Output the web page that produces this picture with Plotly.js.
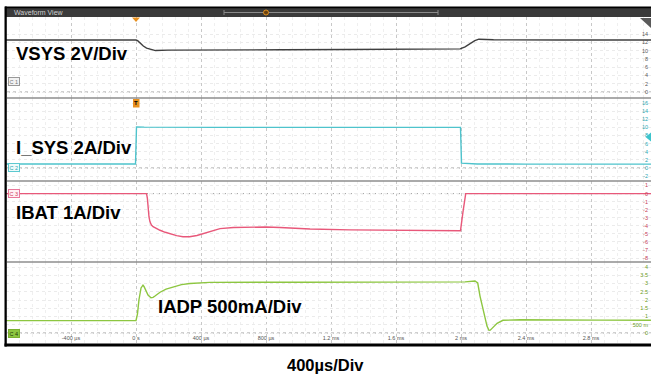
<!DOCTYPE html>
<html>
<head>
<meta charset="utf-8">
<script src="https://cdn.plot.ly/plotly-3.0.1.min.js"></script>
<style>html,body{margin:0;padding:0;background:#fff;}#chart{width:651px;height:376px;}</style>
</head>
<body>
<div id="chart"></div>
<script>
// ---- data (time in ms) ----
const vsysT = [-0.8, -0.4, 0, 0.01, 0.025, 0.045, 0.065, 0.09, 0.12, 0.2, 0.5, 0.9, 1.3, 1.7, 1.95, 1.995, 2.025, 2.055, 2.085, 2.11, 2.2, 2.6, 3.17];
const vsysV = [12.55, 12.6, 12.55, 12.4, 11.8, 11.1, 10.6, 10.25, 10.0, 10.1, 10.2, 10.2, 10.25, 10.3, 10.35, 10.4, 10.9, 11.7, 12.4, 12.75, 12.6, 12.55, 12.55];

const isysT = [-0.8, -0.003, 0.003, 0.05, 0.5, 1.0, 1.5, 1.997, 2.003, 2.03, 2.1, 2.4, 3.17];
const isysV = [1.0, 1.0, 10.1, 10.05, 10.0, 10.0, 10.0, 10.0, 1.2, 1.1, 1.0, 0.95, 0.95];

const ibatT = [-0.8, 0.065, 0.07, 0.074, 0.08, 0.086, 0.095, 0.105, 0.125, 0.148, 0.18, 0.209, 0.25, 0.289, 0.33, 0.375, 0.415, 0.455, 0.517, 0.6, 0.702, 0.8, 0.886, 1.071, 1.317, 1.625, 1.85, 1.997, 2.012, 2.029, 2.1, 3.17];
const ibatV = [0, 0, -0.6, -1.8, -2.9, -3.5, -3.9, -4.1, -4.35, -4.55, -4.8, -5.0, -5.22, -5.35, -5.35, -5.2, -4.95, -4.7, -4.35, -4.2, -4.15, -4.15, -4.2, -4.4, -4.5, -4.55, -4.6, -4.6, -2.3, 0, 0, 0];

const iadpT = [-0.8, -0.01, 0, 0.009, 0.018, 0.031, 0.037, 0.043, 0.049, 0.055, 0.074, 0.092, 0.105, 0.117, 0.148, 0.185, 0.228, 0.28, 0.332, 0.455, 1.009, 1.625, 2.025, 2.086, 2.103, 2.117, 2.142, 2.16, 2.172, 2.18, 2.191, 2.222, 2.258, 2.363, 2.855, 3.169];
const iadpV = [0.75, 0.75, 0.76, 1.15, 2.0, 2.73, 2.86, 2.9, 2.82, 2.67, 2.3, 2.14, 2.16, 2.24, 2.47, 2.66, 2.8, 2.93, 3.0, 3.07, 3.08, 3.08, 3.1, 3.15, 3.03, 2.24, 1.1, 0.42, 0.16, 0.17, 0.28, 0.59, 0.77, 0.8, 0.78, 0.77];

// ---- tick labels ----
const timeTickVals = [-0.4, 0, 0.4, 0.8, 1.2, 1.6, 2.0, 2.4, 2.8];
const timeTickText = ['-400 µs', '0 s', '400 µs', '800 µs', '1.2 ms', '1.6 ms', '2 ms', '2.4 ms', '2.8 ms'];
const ch1TickVals = [0, 2, 4, 6, 8, 10, 12, 14];
const ch1TickText = ['0', '2', '4', '6', '8', '10', '12', '14'];
const ch2TickVals = [-2, 0, 2, 4, 6, 8, 10, 12, 14, 16];
const ch2TickText = ['-2', '0', '2', '4', '6', '8', '10', '12', '14', '16'];
const ch3TickVals = [1, 0, -1, -2, -3, -4, -5, -6, -7, -8];
const ch3TickText = ['1', '0', '-1', '-2', '-3', '-4', '-5', '-6', '-7', '-8'];
const ch4TickVals = [-0.5, 0, 0.5, 1, 1.5, 2, 2.5, 3, 3.5, 4];
const ch4TickText = ['-500 m', '0', '500 m', '1', '1.5', '2', '2.5', '3', '3.5', '4'];

const channelLabels = ['VSYS 2V/Div', 'I_SYS 2A/Div', 'IBAT 1A/Div', 'IADP 500mA/Div'];
const timebaseLabel = '400µs/Div';

// ---- helpers for pixel placement of decorations ----
const W = 651, H = 376;
const px = x => x / W;
const py = y => 1 - y / H;
const ydom = (top, bot) => [py(bot), py(top)];

const colVsys = '#3f3f3f', colIsys = '#4ec3cc', colIbat = '#e8587a', colIadp = '#8dc641';

const traces = [
  {x: vsysT, y: vsysV, xaxis: 'x', yaxis: 'y', mode: 'lines', line: {color: colVsys, width: 1.4}},
  {x: isysT, y: isysV, xaxis: 'x', yaxis: 'y2', mode: 'lines', line: {color: colIsys, width: 1.4}},
  {x: ibatT, y: ibatV, xaxis: 'x', yaxis: 'y3', mode: 'lines', line: {color: colIbat, width: 1.4}},
  {x: iadpT, y: iadpV, xaxis: 'x', yaxis: 'y4', mode: 'lines', line: {color: colIadp, width: 1.4}}
];

const tickFont = (c) => ({family: 'Liberation Sans, Arial, sans-serif', size: 5.5, color: c});
function yax(top, bot, zeroPx, pxPerUnit, vals, text, col) {
  return {
    domain: ydom(top, bot),
    range: [-(bot - zeroPx) / pxPerUnit, (zeroPx - top) / pxPerUnit],
    anchor: 'x', side: 'right', ticklabelposition: 'inside',
    tickmode: 'array', tickvals: vals, ticktext: text, tickfont: tickFont(col),
    ticks: '', showline: false, zeroline: false,
    showgrid: true, gridcolor: '#ebebeb', griddash: 'dot', gridwidth: 1,
    fixedrange: true
  };
}

const layout = {
  width: W, height: H,
  margin: {l: 0, r: 0, t: 0, b: 0},
  paper_bgcolor: '#ffffff', plot_bgcolor: 'rgba(0,0,0,0)',
  showlegend: false,
  xaxis: {
    domain: [px(6), 1], range: [-0.8, (W - 136) * 0.4 / 65], anchor: 'y4',
    tickmode: 'array', tickvals: timeTickVals, ticktext: timeTickText,
    ticklabelposition: 'inside', tickfont: tickFont('#555'), ticks: '',
    showline: false, zeroline: false,
    showgrid: true, gridcolor: '#c8c8c8', griddash: 'dot', gridwidth: 1,
    minor: {tickmode: 'linear', tick0: 0, dtick: 0.08, showgrid: true, gridcolor: '#efefef', griddash: 'dot', gridwidth: 1},
    fixedrange: true
  },
  yaxis: yax(17, 98, 92, 4.143, ch1TickVals, ch1TickText, '#555555'),
  yaxis2: yax(98, 181, 168, 4.0625, ch2TickVals, ch2TickText, '#2aa6b0'),
  yaxis3: yax(181, 262, 193.6, 8.06, ch3TickVals, ch3TickText, '#c33a55'),
  yaxis4: yax(262, 344, 333, 16.5, ch4TickVals, ch4TickText, '#6a9a22'),
  shapes: [],
  annotations: []
};

const S = layout.shapes, A = layout.annotations;
// zero reference dotted lines
['y', 'y2', 'y3', 'y4'].forEach(ya => {
  S.push({type: 'line', xref: 'paper', yref: ya, x0: px(7), x1: 1, y0: 0, y1: 0, layer: 'below', line: {color: '#a0a0a0', width: 1, dash: 'dot'}});
});
// separators between channels
[98, 181, 262].forEach(y => {
  S.push({type: 'line', xref: 'paper', yref: 'paper', x0: px(7), x1: 1, y0: py(y), y1: py(y), layer: 'above', line: {color: '#8e8e8e', width: 1.5}});
});
// frame: top bar, left border, bottom border
S.push({type: 'rect', xref: 'paper', yref: 'paper', x0: px(5), x1: 1, y0: py(17), y1: py(7.5), fillcolor: '#3a3a3a', line: {width: 0}, layer: 'above'});
S.push({type: 'rect', xref: 'paper', yref: 'paper', x0: px(5), x1: 1, y0: py(8.3), y1: py(6.5), fillcolor: '#000', line: {width: 0}, layer: 'above'});
S.push({type: 'rect', xref: 'paper', yref: 'paper', x0: px(4.5), x1: px(6.8), y0: py(346.5), y1: py(6.5), fillcolor: '#000', line: {width: 0}, layer: 'above'});
S.push({type: 'rect', xref: 'paper', yref: 'paper', x0: px(4.5), x1: 1, y0: py(346.5), y1: py(343.5), fillcolor: '#000', line: {width: 0}, layer: 'above'});
// scroll widget in top bar
S.push({type: 'line', xref: 'paper', yref: 'paper', x0: px(224), x1: px(438), y0: py(12.5), y1: py(12.5), line: {color: '#8a8a8a', width: 1}, layer: 'above'});
S.push({type: 'line', xref: 'paper', yref: 'paper', x0: px(224), x1: px(224), y0: py(10), y1: py(15), line: {color: '#8a8a8a', width: 1}, layer: 'above'});
S.push({type: 'line', xref: 'paper', yref: 'paper', x0: px(438), x1: px(438), y0: py(10), y1: py(15), line: {color: '#8a8a8a', width: 1}, layer: 'above'});
S.push({type: 'circle', xref: 'paper', yref: 'paper', x0: px(263.5), x1: px(268.5), y0: py(15), y1: py(10), fillcolor: '#6a4210', line: {color: '#e0901e', width: 1}, layer: 'above'});
// trigger position marker (top)
const pathPx = pts => pts.map((p, i) => (i ? 'L ' : 'M ') + px(p[0]) + ' ' + py(p[1])).join(' ') + ' Z';
S.push({type: 'path', xref: 'paper', yref: 'paper', path: pathPx([[132, 17.5], [140, 17.5], [136, 22]]), fillcolor: '#e8901e', line: {width: 0}, layer: 'above'});
// trigger "T" box
S.push({type: 'rect', xref: 'paper', yref: 'paper', x0: px(133), x1: px(139.5), y0: py(107.5), y1: py(99), fillcolor: '#e8901e', line: {width: 0}, layer: 'above'});
// top-right corner marker
S.push({type: 'path', xref: 'paper', yref: 'paper', path: pathPx([[640, 18], [651, 18], [651, 28]]), fillcolor: '#5a5a5a', line: {width: 0}, layer: 'above'});
// ch2 trigger level marker at right
S.push({type: 'path', xref: 'paper', yref: 'paper', path: pathPx([[651, 132.5], [645.5, 137], [651, 141.5]]), fillcolor: '#3cc4cc', line: {width: 0}, layer: 'above'});

// texts
A.push({xref: 'paper', yref: 'paper', x: px(12), y: py(12.5), xanchor: 'left', yanchor: 'middle', text: 'Waveform View', showarrow: false, font: {family: 'Liberation Sans, Arial, sans-serif', size: 7, color: '#d0d0d0'}});
A.push({xref: 'paper', yref: 'paper', x: px(136.3), y: py(103.3), xanchor: 'center', yanchor: 'middle', text: '<b>T</b>', showarrow: false, font: {family: 'Liberation Sans, Arial, sans-serif', size: 6, color: '#000'}});
const bigFont = {family: 'Liberation Sans, Arial, sans-serif', size: 18.5, color: '#000', weight: 700};
A.push({xref: 'paper', yref: 'paper', x: px(14), y: py(54), xanchor: 'left', yanchor: 'middle', text: channelLabels[0], showarrow: false, font: bigFont});
A.push({xref: 'paper', yref: 'paper', x: px(14), y: py(147), xanchor: 'left', yanchor: 'middle', text: channelLabels[1], showarrow: false, font: bigFont});
A.push({xref: 'paper', yref: 'paper', x: px(14), y: py(212), xanchor: 'left', yanchor: 'middle', text: channelLabels[2], showarrow: false, font: bigFont});
A.push({xref: 'paper', yref: 'paper', x: px(156), y: py(306), xanchor: 'left', yanchor: 'middle', text: channelLabels[3], showarrow: false, font: bigFont});
A.push({xref: 'paper', yref: 'paper', x: px(325), y: py(365), xanchor: 'center', yanchor: 'middle', text: timebaseLabel, showarrow: false, font: {family: 'Liberation Sans, Arial, sans-serif', size: 16.5, color: '#000', weight: 700}});
// channel tags
const tag = (label, y, fg, bg, border) => A.push({xref: 'paper', yref: 'paper', x: px(8), y: py(y), xanchor: 'left', yanchor: 'middle', text: label, showarrow: false,
  font: {family: 'Liberation Sans, Arial, sans-serif', size: 5.5, color: fg}, bgcolor: bg, bordercolor: border, borderwidth: 1, borderpad: 0.5});
tag('C 1', 81, '#777', '#f2f2f2', '#999');
tag('C 2', 167.5, '#2aa6b0', '#eefafa', '#5cc9d0');
tag('C 3', 193.6, '#d04060', '#fff0f3', '#e8789a');
tag('C 4', 333, '#1e3a05', '#8dc641', '#7ab030');

Plotly.newPlot('chart', traces, layout, {staticPlot: true, displayModeBar: false});
</script>
</body>
</html>
